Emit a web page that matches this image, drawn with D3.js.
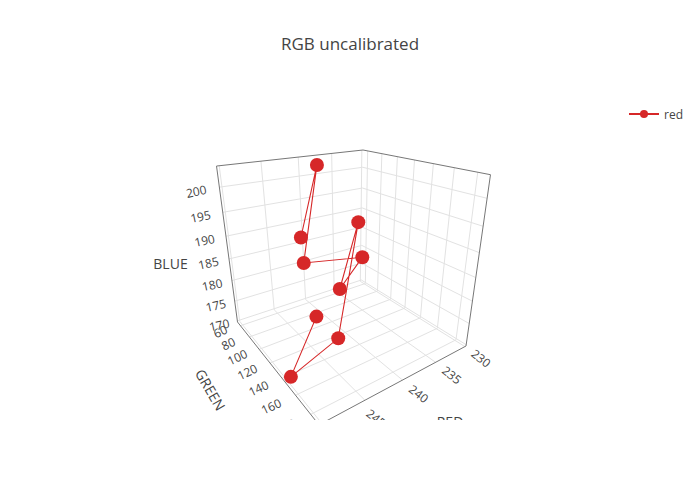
<!DOCTYPE html>
<html><head><meta charset="utf-8"><style>
html,body{margin:0;background:#fff}
text{font-family:"Open Sans",sans-serif;fill:#444}
</style></head><body><svg id="c" width="700" height="500"></svg>
<script src="https://cdn.jsdelivr.net/npm/d3@7"></script>
<script>
const title="RGB uncalibrated";
const seriesName="red";
const redValues=[243.17,239.2,243.37,236.63,240.44,239.56,243.86,250.1,243.56];
const greenValues=[90,74,95,113,117,133,148,152,114];
const blueValues=[190,203,185,185,180,195,175,172,175];
const redTicks=[230,235,240,245,250];
const greenTicks=[60,80,100,120,140,160,180];
const blueTicks=[170,175,180,185,190,195,200];
const redDomain=[229.8,250.3];
const greenDomain=[53,190];
const blueDomain=[169.7,204];

const rs=d3.scaleLinear(redDomain,[0,1]),gs=d3.scaleLinear(greenDomain,[0,1]),bs=d3.scaleLinear(blueDomain,[0,1]);
const pA=[361.3,281],pB=[363,150],pC=[237.5,322],pE=[466,346];
const al=.8266,be=.746,ga=.87;
function proj(u,v,w){
  const f=k=>(pA[k]+u*(al*pC[k]-pA[k])+v*(be*pE[k]-pA[k])+w*(ga*pB[k]-pA[k]));
  const d=1+u*(al-1)+v*(be-1)+w*(ga-1);
  return [f(0)/d,f(1)/d];
}
const svg=d3.select("#c");
svg.append("defs").append("clipPath").attr("id","pl").append("rect").attr("x",80).attr("y",100).attr("width",540).attr("height",320);
const g=svg.append("g").attr("clip-path","url(#pl)");
const line=d3.line();
function seg(a,b,col,wd){g.append("path").attr("d",line([proj(...a),proj(...b)])).attr("fill","none").attr("stroke",col).attr("stroke-width",wd);}
const GC="#e2e2e2";
redTicks.forEach(t=>{const u=rs(t);seg([u,0,0],[u,0,1],GC,1);seg([u,0,0],[u,1,0],GC,1);});
greenTicks.forEach(t=>{const v=gs(t);seg([0,v,0],[0,v,1],GC,1);seg([0,v,0],[1,v,0],GC,1);});
blueTicks.forEach(t=>{const w=bs(t);seg([0,0,w],[1,0,w],GC,1);seg([0,0,w],[0,1,w],GC,1);});
const EC="#777";
[[[1,0,1],[0,0,1]],[[0,0,1],[0,1,1]],[[1,0,0],[1,0,1]],[[0,1,0],[0,1,1]],[[1,0,0],[1,1,0]],[[0,1,0],[1,1,0]]].forEach(e=>seg(e[0],e[1],EC,1));
const pts=redValues.map((r,i)=>proj(rs(r),gs(greenValues[i]),bs(blueValues[i])));
g.append("path").attr("d",line(pts)).attr("fill","none").attr("stroke","#d62728").attr("stroke-width",1.1);
g.selectAll("circle").data(pts).join("circle").attr("cx",d=>d[0]).attr("cy",d=>d[1]).attr("r",7).attr("fill","#d62728");

function label(parent,x,y,rot,txt,size){parent.append("text").attr("transform",`translate(${x},${y}) rotate(${rot})`).attr("text-anchor","middle").attr("dy","0.35em").attr("font-size",size).text(txt);}
const blueDx=d3.scaleLinear([170,200],[-18,-23]);
const greenDx=d3.scaleLinear([60,180],[-20,-25]),greenDy=d3.scaleLinear([60,180],[6,12.5]);
const redDx=d3.scaleLinear([230,240,245],[16,16,11]),redDy=d3.scaleLinear([230,240,245],[12,14,18]);
blueTicks.forEach(t=>{const p=proj(1,0,bs(t));label(svg,p[0]+blueDx(t),p[1]+4.5,-12,t,12);});
greenTicks.forEach(t=>{const p=proj(1,gs(t),0);label(g,p[0]+greenDx(t),p[1]+greenDy(t),-25,t,12);});
redTicks.forEach(t=>{const p=proj(rs(t),1,0);label(g,p[0]+redDx(t),p[1]+redDy(t),38,t,12);});
label(svg,170.5,264,0,"BLUE",14);
label(g,210,390,60,"GREEN",14);
label(g,450,422,0,"RED",14);
svg.append("text").attr("x",350).attr("y",50).attr("text-anchor","middle").attr("font-size",17).text(title);
const lg=svg.append("g");
lg.append("path").attr("d",line([[629,114],[659,114]])).attr("stroke","#d62728").attr("stroke-width",2);
lg.append("circle").attr("cx",644).attr("cy",114).attr("r",4).attr("fill","#d62728");
lg.append("text").attr("x",664).attr("y",118.5).attr("font-size",12).text(seriesName);
</script></body></html>
